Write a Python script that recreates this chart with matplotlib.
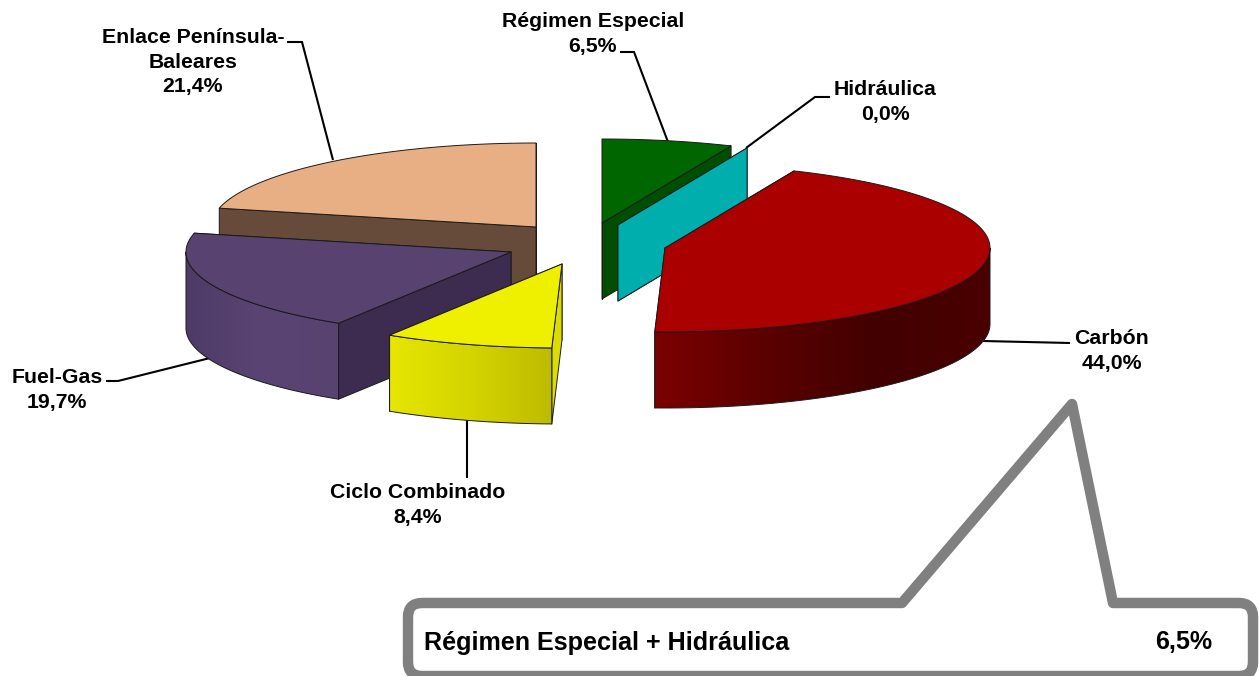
#!/usr/bin/env python3
# -*- coding: utf-8 -*-
import numpy as np
import matplotlib
matplotlib.use('Agg')
import matplotlib.pyplot as plt
from matplotlib.colors import LinearSegmentedColormap
from matplotlib.patches import Polygon, PathPatch
from matplotlib.path import Path

plt.rcParams['font.family'] = ['Liberation Sans', 'DejaVu Sans']

# data, clockwise from the top of the pie
names = ['Régimen Especial', 'Hidráulica', 'Carbón', 'Ciclo Combinado', 'Fuel-Gas',
         'Enlace Península-\nBaleares']
shares = [6.5, 0.0, 44.0, 8.4, 19.7, 21.4]
total_name = 'Régimen Especial + Hidráulica'
total_share = 6.5

# pie geometry in pixels
RX, RY, DEPTH = 325, 84, 76
apex = [(602, 223), (618, 225), (665, 248), (562, 264), (511, 252), (536, 227)]

top_colors = ['#006600', '#00AEAE', '#AA0000', '#EFEF00', '#574270', '#E8AF84']
face_colors = ['#004F00', '#00AEAE', '#4A0000', '#DCDC00', '#3D2B50', '#664B3A']
side_stops = [['#004F00', '#004F00'], ['#00AEAE', '#00AEAE'],
              ['#7C0000', '#5A0000', '#420000', '#4A0000'],
              ['#E6E600', '#D4D400', '#BDBB00'],
              ['#4E3B66', '#5A4473', '#574270'], ['#664B3A', '#664B3A']]

label_pos = [(593, 34), (885, 102), (1112, 351), (418, 505), (57, 390), (193, 62)]
leaders = [[(620, 52), (634, 52), (668, 142)],
           [(830, 97), (815, 97), (746, 148)],
           [(983, 341), (1070, 343)],
           [(467, 420), (467, 478)],
           [(106, 381), (118, 381), (210, 358)],
           [(287, 42), (302, 42), (333, 160)]]

fig = plt.figure(figsize=(12.59, 6.76), dpi=100, facecolor='white')
ax = fig.add_axes([0, 0, 1, 1])
ax.axis('off')

EDGE = dict(edgecolor='#1a1a1a', linewidth=0.7, joinstyle='round')


def rim(cx, cy, a0, a1, n=120):
    t = np.radians(np.linspace(a0, a1, n))
    return np.column_stack([cx + RX * np.cos(t), cy - RY * np.sin(t)])


def edge_face(cx, cy, ang, color, z):
    t = np.radians(ang)
    px, py = cx + RX * np.cos(t), cy - RY * np.sin(t)
    ax.add_patch(Polygon([(cx, cy), (px, py), (px, py + DEPTH), (cx, cy + DEPTH)],
                         facecolor=color, zorder=z, **EDGE))


def draw_slice(cx, cy, a0, a1, top, face, stops, z):
    # a0 > a1, angles run clockwise
    edge_face(cx, cy, a1, face, z)
    edge_face(cx, cy, a0, face, z + 0.1)
    # outer wall, only the part that faces the viewer
    lo, hi = max(a1, -180), min(a0, 0)
    if hi > lo:
        upper = rim(cx, cy, hi, lo)
        lower = upper[::-1] + (0, DEPTH)
        wall = np.vstack([upper, lower])
        patch = Polygon(wall, facecolor='none', zorder=z + 0.3, **EDGE)
        ax.add_patch(patch)
        cmap = LinearSegmentedColormap.from_list('side', stops)
        img = ax.imshow(np.linspace(0, 1, 256)[None, :], cmap=cmap, aspect='auto',
                        extent=(wall[:, 0].min(), wall[:, 0].max(),
                                wall[:, 1].max(), wall[:, 1].min()), zorder=z + 0.2)
        img.set_clip_path(patch)
    if a0 > a1:
        outline = np.vstack([[(cx, cy)], rim(cx, cy, a0, a1)])
        ax.add_patch(Polygon(outline, facecolor=top, zorder=z + 0.4, **EDGE))


angles = 90 - 3.6 * np.concatenate([[0], np.cumsum(shares)])
draw_order = [5, 4, 3, 0, 1, 2]
for z, i in enumerate(draw_order):
    draw_slice(apex[i][0], apex[i][1], angles[i], angles[i + 1], top_colors[i],
               face_colors[i], side_stops[i], 2 + z)

ax.set_xlim(0, 1259)
ax.set_ylim(676, 0)

for i, name in enumerate(names):
    pts = np.array(leaders[i])
    ax.plot(pts[:, 0], pts[:, 1], color='black', lw=1.5, zorder=1,
            solid_joinstyle='miter', solid_capstyle='butt')
    txt = f'{name}\n{shares[i]:.1f}%'.replace('.', ',')
    ax.text(label_pos[i][0], label_pos[i][1], txt, ha='center', va='center',
            fontsize=15.3, fontweight='bold', color='black', linespacing=1.35, zorder=20)

# callout, the bottom stroke runs along the image edge
L, R, T, B, r = 408, 1253, 603, 676, 14
verts = [(902, T), (1072, 404), (1113, T), (R - r, T), (R, T), (R, T + r),
         (R, B - r), (R, B), (R - r, B), (L + r, B), (L, B), (L, B - r),
         (L, T + r), (L, T), (L + r, T), (902, T)]
codes = [Path.MOVETO, Path.LINETO, Path.LINETO, Path.LINETO, Path.CURVE3, Path.CURVE3,
         Path.LINETO, Path.CURVE3, Path.CURVE3, Path.LINETO, Path.CURVE3, Path.CURVE3,
         Path.LINETO, Path.CURVE3, Path.CURVE3, Path.CLOSEPOLY]
ax.add_patch(PathPatch(Path(verts, codes), facecolor='white', edgecolor='#808080',
                       linewidth=7.5, joinstyle='round', zorder=15))
ax.text(424, 643, total_name, ha='left', va='center', fontsize=18.1, fontweight='bold',
        color='black', zorder=20)
ax.text(1212, 642, f'{total_share:.1f}%'.replace('.', ','), ha='right', va='center',
        fontsize=18.1, fontweight='bold', color='black', zorder=20)

plt.savefig('out.png', dpi=100, facecolor='white')
plt.close()
